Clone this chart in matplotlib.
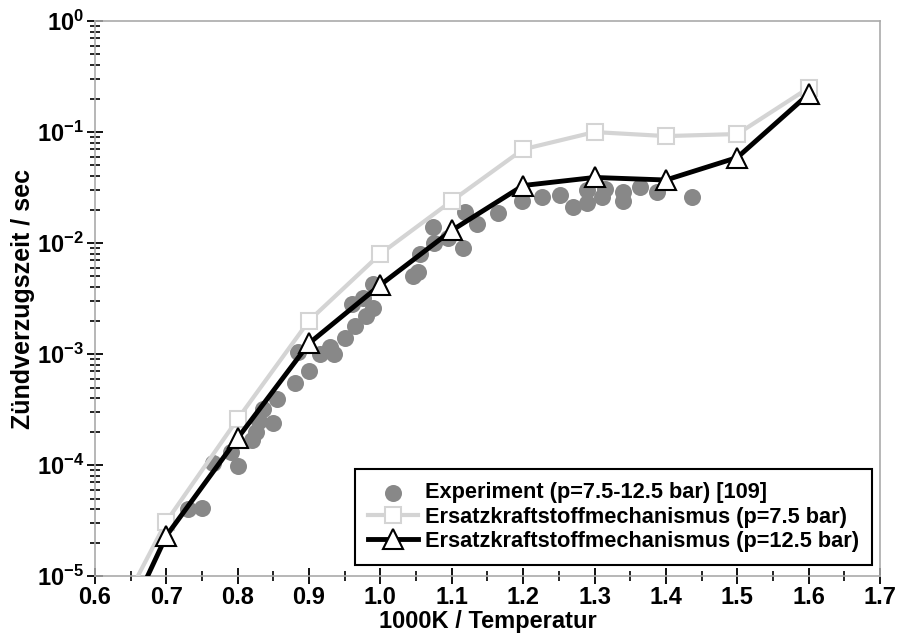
import matplotlib
matplotlib.use('Agg')
import matplotlib.pyplot as plt
from matplotlib.ticker import MultipleLocator, LogLocator, FuncFormatter, NullFormatter
import numpy as np

plt.rcParams['font.family'] = ['Liberation Sans', 'DejaVu Sans']
plt.rcParams['font.weight'] = 'bold'
plt.rcParams['mathtext.fontset'] = 'custom'
plt.rcParams['mathtext.rm'] = 'Liberation Sans:bold'
plt.rcParams['mathtext.bf'] = 'Liberation Sans:bold'
plt.rcParams['mathtext.default'] = 'rm'

# experiment (p=7.5-12.5 bar)
exp_x = [0.73, 0.75, 0.765, 0.79, 0.80, 0.82, 0.825, 0.83, 0.835, 0.85, 0.855,
         0.88, 0.885, 0.90, 0.915, 0.93, 0.935, 0.95, 0.965, 0.96, 0.975, 0.98,
         0.99, 0.99, 1.045, 1.052, 1.055, 1.075, 1.073, 1.094, 1.115, 1.118,
         1.135, 1.165, 1.198, 1.227, 1.251, 1.27, 1.289, 1.29, 1.31, 1.315,
         1.34, 1.34, 1.363, 1.387, 1.436]
exp_y = [4.0e-5, 4.1e-5, 1.05e-4, 1.3e-4, 9.8e-5, 1.7e-4, 2.0e-4, 2.5e-4, 3.2e-4,
         2.4e-4, 3.9e-4, 5.5e-4, 1.05e-3, 7.0e-4, 1.0e-3, 1.15e-3, 1.0e-3, 1.4e-3,
         1.8e-3, 2.8e-3, 3.2e-3, 2.2e-3, 2.6e-3, 4.3e-3, 5.0e-3, 5.5e-3, 8.0e-3,
         1.0e-2, 1.4e-2, 1.1e-2, 9.0e-3, 1.9e-2, 1.5e-2, 1.85e-2, 2.4e-2, 2.6e-2,
         2.7e-2, 2.1e-2, 2.3e-2, 3.0e-2, 2.6e-2, 3.1e-2, 2.4e-2, 2.9e-2, 3.2e-2,
         2.9e-2, 2.6e-2]

# mechanism p=7.5 bar
m75_x = [0.65, 0.7, 0.8, 0.9, 1.0, 1.1, 1.2, 1.3, 1.4, 1.5, 1.6]
m75_y = [7.5e-6, 3.1e-5, 2.6e-4, 2.0e-3, 8.0e-3, 2.4e-2, 7.0e-2, 0.10, 0.092, 0.096, 0.25]

# mechanism p=12.5 bar
m125_x = [0.65, 0.7, 0.8, 0.9, 1.0, 1.1, 1.2, 1.3, 1.4, 1.5, 1.6]
m125_y = [4.7e-6, 2.3e-5, 1.75e-4, 1.25e-3, 4.2e-3, 1.3e-2, 3.3e-2, 3.9e-2, 3.7e-2, 5.9e-2, 0.22]

fig = plt.figure(figsize=(9.04, 6.38), dpi=100)
ax = fig.add_axes([0.105, 0.097, 0.8685, 0.87])

ax.scatter(exp_x, exp_y, s=150, color='#888888', linewidths=0, zorder=2,
           label='Experiment (p=7.5-12.5 bar) [109]')
ax.plot(m75_x, m75_y, color='#d4d4d4', lw=3, marker='s', ms=11,
        mfc='white', mec='#d4d4d4', mew=1.5, zorder=3,
        label='Ersatzkraftstoffmechanismus (p=7.5 bar)')
ax.plot(m125_x, m125_y, color='black', lw=3.5, marker='^', ms=14,
        mfc='white', mec='black', mew=1.5, zorder=4,
        label='Ersatzkraftstoffmechanismus (p=12.5 bar)')

ax.set_yscale('log')
ax.set_xlim(0.6, 1.7)
ax.set_ylim(1e-5, 1)

ax.xaxis.set_major_locator(MultipleLocator(0.1))
ax.xaxis.set_minor_locator(MultipleLocator(0.05))
ax.xaxis.set_major_formatter(FuncFormatter(lambda v, p: '%.1f' % v))
ax.yaxis.set_major_locator(LogLocator(base=10, numticks=10))
ax.yaxis.set_minor_locator(LogLocator(base=10, subs=np.arange(2, 10), numticks=10))
ax.yaxis.set_minor_formatter(NullFormatter())
ax.yaxis.set_major_formatter(FuncFormatter(lambda v, p: r'$10^{%d}$' % round(np.log10(v))))

for s in ax.spines.values():
    s.set_color('#aaaaaa')
    s.set_linewidth(1.2)

ax.tick_params(axis='both', which='major', direction='inout', length=12, width=1.3,
               color='black', labelsize=17)
ax.tick_params(axis='both', which='minor', direction='inout', length=7, width=1.2,
               color='black')
ax.tick_params(axis='x', pad=1)
ax.tick_params(axis='y', pad=2)

ax.set_xlabel('1000K / Temperatur', fontsize=17, fontweight='bold', labelpad=1)
ax.set_ylabel('Zündverzugszeit / sec', fontsize=18, fontweight='bold', labelpad=1)

leg = ax.legend(loc='lower right', bbox_to_anchor=(0.99, 0.02), borderaxespad=0,
                fontsize=15.7, frameon=True, fancybox=False, edgecolor='black',
                framealpha=1, handlelength=2.3, handletextpad=0.3, borderpad=0.6,
                labelspacing=0.15)
leg.get_frame().set_linewidth(1.5)

fig.savefig('out.png', dpi=100)
